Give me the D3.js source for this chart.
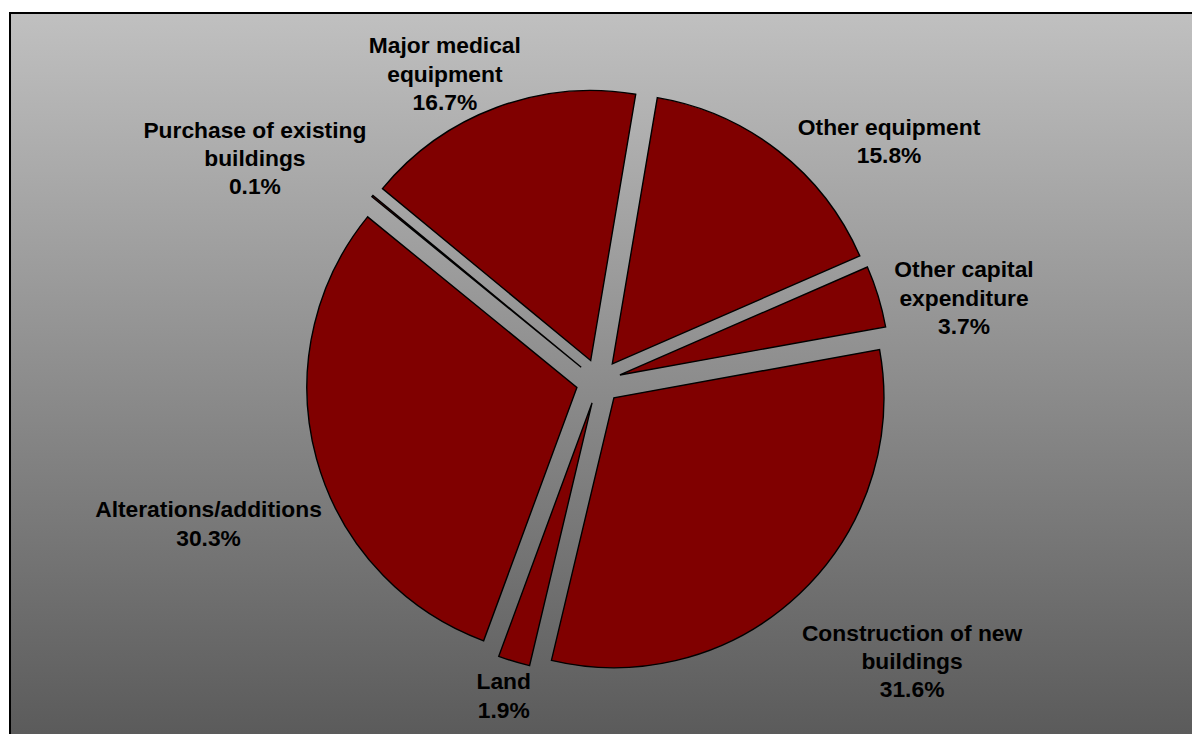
<!DOCTYPE html>
<html>
<head>
<meta charset="utf-8">
<script src="https://cdn.jsdelivr.net/npm/d3@7"></script>
<style>
  html, body { margin: 0; padding: 0; background: #ffffff; }
  svg { display: block; }
  text { font-family: "Liberation Sans", Arial, sans-serif; font-weight: bold; font-size: 22.8px; fill: #000; }
</style>
</head>
<body>
<svg id="chart" width="1192" height="734"></svg>
<script>
// Capital expenditure breakdown, clockwise from the first slice
const categories = [
  "Other equipment",
  "Other capital expenditure",
  "Construction of new buildings",
  "Land",
  "Alterations/additions",
  "Purchase of existing buildings",
  "Major medical equipment"
];
const shares = [15.8, 3.7, 31.6, 1.9, 30.3, 0.1, 16.7];

// Label lines as printed (category text is wrapped the same way)
const labelLines = [
  ["Other equipment"],
  ["Other capital", "expenditure"],
  ["Construction of new", "buildings"],
  ["Land"],
  ["Alterations/additions"],
  ["Purchase of existing", "buildings"],
  ["Major medical", "equipment"]
];

// Label placement: distance from pie centre and angular nudge (degrees) from slice bisector
const labelLayout = [
  { dist: 377, nudge: 12.4 },
  { dist: 375, nudge: 4.0 },
  { dist: 420, nudge: -4.85 },
  { dist: 328, nudge: 0 },
  { dist: 415, nudge: -4.7 },
  { dist: 410, nudge: -6.3 },
  { dist: 344, nudge: -6.1 }
];

const svg = d3.select("#chart");
const W = 1192, H = 734;
const cx = 598.5, cy = 381.5;
const radius = 270;
const explode = 22.4;
const lineGap = 28.3;
const startDeg = 9.6;

// Background panel with vertical grey gradient
const defs = svg.append("defs");
const grad = defs.append("linearGradient")
  .attr("id", "bg")
  .attr("gradientUnits", "userSpaceOnUse")
  .attr("x1", 0).attr("y1", 13).attr("x2", 0).attr("y2", H);
grad.append("stop").attr("offset", "0%").attr("stop-color", "#c0c0c0");
grad.append("stop").attr("offset", "100%").attr("stop-color", "#5b5b5b");

svg.append("rect")
  .attr("x", 10).attr("y", 13)
  .attr("width", W + 20).attr("height", H + 20)
  .attr("fill", "url(#bg)")
  .attr("stroke", "#000")
  .attr("stroke-width", 2);

const data = categories.map((c, i) => ({ name: c, value: shares[i], lines: labelLines[i], layout: labelLayout[i] }));

const toRad = Math.PI / 180;
const pie = d3.pie()
  .sort(null)
  .value(d => d.value)
  .startAngle(startDeg * toRad)
  .endAngle(startDeg * toRad + 2 * Math.PI);

const arc = d3.arc().innerRadius(0).outerRadius(radius);

const arcs = pie(data);

const g = svg.append("g").attr("transform", `translate(${cx},${cy})`);

g.selectAll("path.slice")
  .data(arcs)
  .join("path")
  .attr("class", "slice")
  .attr("d", arc)
  .attr("transform", d => {
    const mid = (d.startAngle + d.endAngle) / 2;
    return `translate(${explode * Math.sin(mid)},${-explode * Math.cos(mid)})`;
  })
  .attr("fill", "#800000")
  .attr("stroke", "#000")
  .attr("stroke-width", 1.4)
  .attr("stroke-linejoin", "miter");

// Data labels: category name lines followed by the percentage
const labels = g.selectAll("text.label")
  .data(arcs)
  .join("text")
  .attr("class", "label")
  .attr("text-anchor", "middle")
  .attr("transform", d => {
    const mid = (d.startAngle + d.endAngle) / 2 + d.data.layout.nudge * toRad;
    const r = d.data.layout.dist;
    return `translate(${r * Math.sin(mid)},${-r * Math.cos(mid)})`;
  });

labels.each(function(d) {
  const lines = d.data.lines.concat([d3.format(".1f")(d.data.value) + "%"]);
  const offset = -(lines.length - 1) / 2 * lineGap;
  d3.select(this).selectAll("tspan")
    .data(lines)
    .join("tspan")
    .attr("x", 0)
    .attr("y", (t, i) => offset + i * lineGap)
    .attr("dy", "0.35em")
    .text(t => t);
});
</script>
</body>
</html>
